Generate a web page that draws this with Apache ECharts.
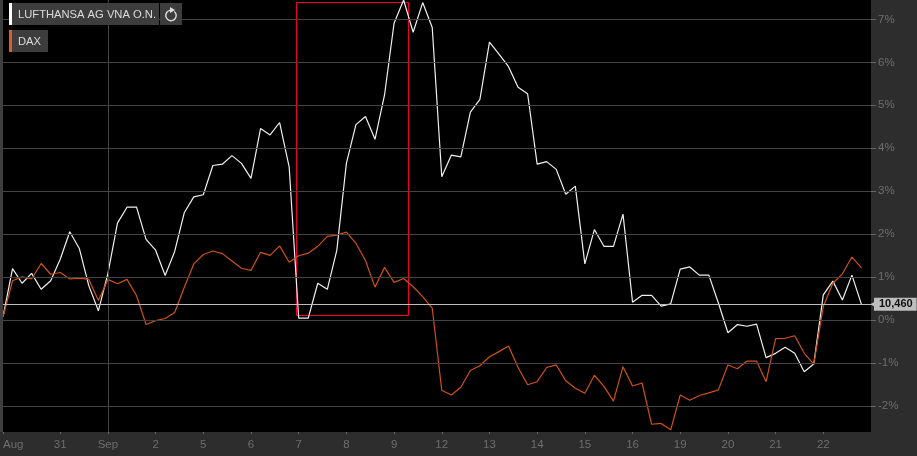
<!DOCTYPE html>
<html>
<head>
<meta charset="utf-8">
<style>
  html, body { margin: 0; padding: 0; background: #2d2d2d; }
  #chart { width: 917px; height: 456px; }
</style>
</head>
<body>
<div id="chart"></div>
<script src="https://cdn.jsdelivr.net/npm/echarts@6/dist/echarts.min.js"></script>
<script>
// percent change, five points per trading day
const lufthansa = [
  0.08, 1.20, 0.86, 1.09, 0.72, 0.92, 1.42, 2.06, 1.67, 0.80,
  0.22, 1.09, 2.26, 2.63, 2.63, 1.88, 1.63, 1.04, 1.60, 2.50,
  2.87, 2.92, 3.60, 3.63, 3.83, 3.65, 3.30, 4.46, 4.31, 4.60,
  3.57, 0.05, 0.05, 0.86, 0.72, 1.63, 3.65, 4.55, 4.74, 4.21,
  5.24, 6.91, 7.45, 6.70, 7.39, 6.81, 3.34, 3.84, 3.80, 4.84,
  5.14, 6.47, 6.19, 5.90, 5.42, 5.27, 3.63, 3.69, 3.51, 2.93,
  3.12, 1.31, 2.11, 1.72, 1.72, 2.47, 0.42, 0.58, 0.58, 0.33,
  0.38, 1.19, 1.24, 1.05, 1.05, 0.40, -0.29, -0.10, -0.14, -0.09,
  -0.87, -0.77, -0.63, -0.77, -1.20, -1.02, 0.59, 0.91, 0.47, 1.05,
  0.37
];
const dax = [
  0.08, 0.92, 1.01, 0.96, 1.32, 1.07, 1.11, 0.96, 0.98, 0.95,
  0.46, 0.95, 0.85, 0.95, 0.57, -0.10, -0.01, 0.04, 0.18, 0.76,
  1.31, 1.53, 1.61, 1.55, 1.38, 1.21, 1.16, 1.58, 1.51, 1.73,
  1.35, 1.50, 1.56, 1.72, 1.95, 1.98, 2.05, 1.79, 1.39, 0.77,
  1.23, 0.88, 0.97, 0.78, 0.55, 0.28, -1.63, -1.74, -1.56, -1.17,
  -1.06, -0.85, -0.73, -0.60, -1.10, -1.50, -1.43, -1.10, -1.04, -1.41,
  -1.58, -1.70, -1.28, -1.54, -1.88, -1.08, -1.53, -1.46, -2.42, -2.40,
  -2.55, -1.74, -1.86, -1.75, -1.69, -1.62, -1.04, -1.13, -0.95, -0.95,
  -1.43, -0.43, -0.42, -0.36, -0.77, -1.02, 0.32, 0.86, 1.08, 1.47,
  1.22
];
const dayLabels = ["Aug", "31", "Sep", "2", "5", "6", "7", "8", "9", "12", "13", "14", "15", "16", "19", "20", "21", "22"];
const dayIndex = [0, 6, 11, 16, 21, 26, 31, 36, 41, 46, 51, 56, 61, 66, 71, 76, 81, 86];
const yTicks = [-2, -1, 0, 1, 2, 3, 4, 5, 6, 7];
const lastPrice = "10,460";
const lastValue = 0.37;
const monthStart = 11;
const highlightBox = { fromX: 30.77, toX: 42.51, fromY: 0.11, toY: 7.392 };

const toPoints = (values) => values.map((v, i) => [i, v]);

const chart = echarts.init(document.getElementById("chart"), null, { renderer: "canvas" });

const gridColor = "#444444";
const axisText = "#6e6e6e";
const boxColor = "#3d3d3d";
const font = "'Liberation Sans', Arial, sans-serif";

const option = {
  animation: false,
  backgroundColor: "#2d2d2d",
  textStyle: { fontFamily: font },
  grid: {
    left: 3,
    right: 46,
    top: 0,
    bottom: 24,
    backgroundColor: "#000",
    borderWidth: 0,
    show: true,
  },
  xAxis: {
    type: "value",
    min: 0,
    max: 91,
    splitLine: { show: false },
    axisLine: { show: false, onZero: false },
    axisTick: {
      show: true,
      length: 2,
      lineStyle: { color: "#666" },
      customValues: dayIndex,
    },
    axisLabel: {
      color: axisText,
      fontSize: 11.5,
      margin: 7,
      alignMinLabel: "left",
      customValues: dayIndex,
      formatter: (v) => dayLabels[dayIndex.indexOf(v)],
    },
  },
  yAxis: {
    type: "value",
    position: "right",
    min: -2.6,
    max: 7.45,
    splitLine: { show: false },
    axisLine: { show: false, onZero: false },
    axisTick: {
      show: true,
      length: 5,
      lineStyle: { color: "#666" },
      customValues: yTicks,
    },
    axisLabel: {
      color: axisText,
      fontSize: 11.5,
      margin: 7,
      padding: [2, 0, 0, 0],
      customValues: yTicks,
      formatter: (v) => v + "%",
    },
  },
  series: [
    {
      // gridlines and the month line
      name: "grid",
      type: "line",
      data: [],
      silent: true,
      z: 1,
      markLine: {
        silent: true,
        symbol: "none",
        label: { show: false },
        lineStyle: { color: gridColor, width: 1, type: "solid" },
        data: yTicks.map((v) => ({ yAxis: v })).concat([{ xAxis: monthStart }]),
      },
    },
    {
      name: "LUFTHANSA AG VNA O.N.",
      type: "line",
      data: toPoints(lufthansa),
      symbol: "none",
      z: 3,
      lineStyle: { color: "#f0f0f0", width: 1.2 },
      markLine: {
        silent: true,
        symbol: "none",
        lineStyle: { color: "#bdbdbd", width: 1, type: "solid" },
        label: {
          show: true,
          position: "end",
          distance: 3,
          formatter: lastPrice,
          backgroundColor: "#bdbdbd",
          color: "#111",
          fontWeight: "bold",
          fontSize: 11,
          fontFamily: font,
          padding: [1, 4, 1, 5],
        },
        data: [{ yAxis: lastValue }],
      },
      markPoint: {
        silent: true,
        symbol: "triangle",
        symbolSize: 6,
        symbolRotate: 90,
        symbolOffset: [2, 0],
        itemStyle: { color: "#bdbdbd" },
        label: { show: false },
        data: [{ coord: [91, lastValue] }],
      },
    },
    {
      name: "DAX",
      type: "line",
      data: toPoints(dax),
      symbol: "none",
      z: 4,
      lineStyle: { color: "#cf5215", width: 1.2 },
    },
    {
      // red box drawn over the lines
      name: "highlight",
      type: "line",
      data: [],
      silent: true,
      z: 5,
      markArea: {
        silent: true,
        itemStyle: { color: "rgba(0,0,0,0)", borderColor: "#f5002d", borderWidth: 1 },
        data: [[
          { xAxis: highlightBox.fromX, yAxis: highlightBox.fromY },
          { xAxis: highlightBox.toX, yAxis: highlightBox.toY },
        ]],
      },
    },
  ],
  graphic: [
    { type: "rect", z: 20, shape: { x: 9, y: 3, width: 3, height: 22 }, style: { fill: "#ffffff" } },
    { type: "rect", z: 20, shape: { x: 12, y: 3, width: 147, height: 22 }, style: { fill: boxColor } },
    { type: "text", z: 21, x: 18, y: 9, style: { text: "LUFTHANSA AG VNA O.N.", fill: "#dcdcdc", font: "11.2px " + font } },
    { type: "rect", z: 20, shape: { x: 160, y: 3, width: 22, height: 22 }, style: { fill: boxColor } },
    {
      type: "arc",
      z: 21,
      shape: { cx: 171, cy: 15.5, r: 5.2, startAngle: -0.9, endAngle: -1.75 },
      style: { stroke: "#e0e0e0", lineWidth: 1.4, fill: "none" },
    },
    { type: "polygon", z: 21, shape: { points: [[170, 7], [175, 10], [170, 13]] }, style: { fill: "#e0e0e0" } },
    { type: "rect", z: 20, shape: { x: 9, y: 30, width: 3, height: 22 }, style: { fill: "#d9602a" } },
    { type: "rect", z: 20, shape: { x: 12, y: 30, width: 36, height: 22 }, style: { fill: boxColor } },
    { type: "text", z: 21, x: 18, y: 36, style: { text: "DAX", fill: "#dcdcdc", font: "11.2px " + font } },
    // strip at the far left edge
    { type: "rect", z: 20, shape: { x: 0, y: 0, width: 3, height: 432 }, style: { fill: "#3d3d3d" } },
  ],
};

chart.setOption(option);
</script>
</body>
</html>
